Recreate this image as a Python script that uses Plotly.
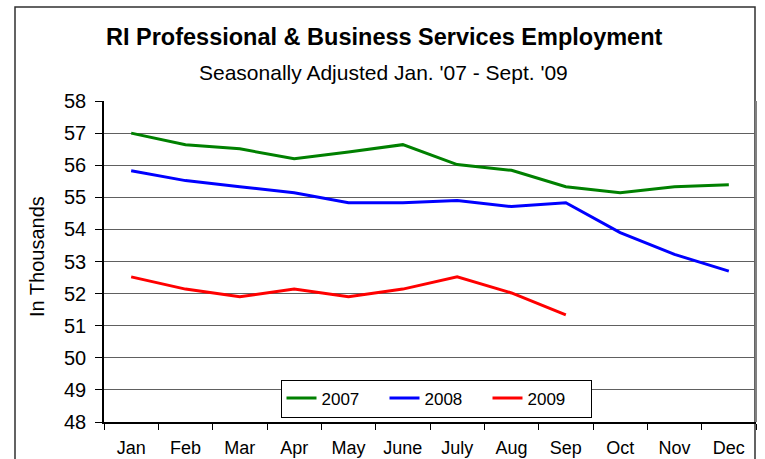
import plotly.graph_objects as go

months = ["Jan", "Feb", "Mar", "Apr", "May", "June", "July", "Aug", "Sep", "Oct", "Nov", "Dec"]
y2007 = [57.0, 56.64, 56.51, 56.2, 56.41, 56.64, 56.02, 55.84, 55.33, 55.14, 55.33, 55.39]
y2008 = [55.83, 55.52, 55.33, 55.14, 54.83, 54.83, 54.9, 54.71, 54.83, 53.9, 53.22, 52.7]
y2009 = [52.52, 52.14, 51.9, 52.14, 51.9, 52.14, 52.52, 52.02, 51.34]
y_ticks = [48, 49, 50, 51, 52, 53, 54, 55, 56, 57, 58]

FONT = "Liberation Sans, Arial, sans-serif"

fig = go.Figure()
fig.add_trace(go.Scatter(x=months, y=y2007, name="2007", mode="lines",
                         line=dict(color="#008000", width=3)))
fig.add_trace(go.Scatter(x=months, y=y2008, name="2008", mode="lines",
                         line=dict(color="#0000FF", width=3)))
fig.add_trace(go.Scatter(x=months[:len(y2009)], y=y2009, name="2009", mode="lines",
                         line=dict(color="#FF0000", width=3)))

L, R, T, B = 104, 9, 101, 37
W, H = 765, 459
pw = W - L - R
ph = H - T - B

def px_x(x):
    return (x - L) / pw

def px_y(y):
    return (H - B - y) / ph

fig.update_layout(
    width=W, height=H,
    margin=dict(l=L, r=R, t=T, b=B, pad=0, autoexpand=False),
    paper_bgcolor="white", plot_bgcolor="white",
    font=dict(family=FONT, color="black"),
    showlegend=True,
    legend=dict(orientation="h", x=px_x(436), y=px_y(398.5), xanchor="center", yanchor="middle",
                bordercolor="black", borderwidth=1, bgcolor="white",
                font=dict(size=17, family=FONT), itemwidth=30, tracegroupgap=0,
                entrywidth=58, entrywidthmode="pixels"),
    xaxis=dict(type="category", categoryorder="array", categoryarray=months,
               range=[-0.5, 11.5], showgrid=False, zeroline=False, automargin=False,
               showline=True, linecolor="black", linewidth=1.5,
               ticks="outside", tickson="boundaries", ticklen=6, tickcolor="black",
               tickfont=dict(size=18, family=FONT), ticklabelstandoff=9),
    yaxis=dict(range=[48, 58], tickvals=y_ticks, showgrid=True, gridcolor="#606060", gridwidth=1,
               zeroline=False, showline=True, linecolor="black", linewidth=1.5, automargin=False,
               ticks="outside", ticklen=7, tickcolor="black",
               tickfont=dict(size=20, family=FONT), ticklabelstandoff=5),
)

# outer chart border
fig.add_shape(type="rect", xref="paper", yref="paper",
              x0=px_x(15), x1=px_x(755), y0=px_y(475), y1=px_y(7),
              line=dict(color="#303030", width=1.5), layer="below")
# right plot edge
fig.add_shape(type="line", xref="paper", yref="paper", x0=1, x1=1, y0=0, y1=1,
              line=dict(color="#808080", width=2))

fig.add_annotation(text="<b>RI Professional & Business Services Employment</b>",
                   xref="paper", yref="paper", x=px_x(384), y=px_y(37),
                   showarrow=False, xanchor="center", yanchor="middle",
                   font=dict(size=23.5, family=FONT))
fig.add_annotation(text="Seasonally Adjusted Jan. '07 - Sept. '09",
                   xref="paper", yref="paper", x=px_x(383), y=px_y(72),
                   showarrow=False, xanchor="center", yanchor="middle",
                   font=dict(size=21, family=FONT))
fig.add_annotation(text="In Thousands", textangle=-90,
                   xref="paper", yref="paper", x=px_x(37), y=px_y(257),
                   showarrow=False, xanchor="center", yanchor="middle",
                   font=dict(size=20, family=FONT))

fig.write_html("out.html", config={"displayModeBar": False},
               post_script="document.body.style.margin='0';document.body.style.overflow='hidden';")
